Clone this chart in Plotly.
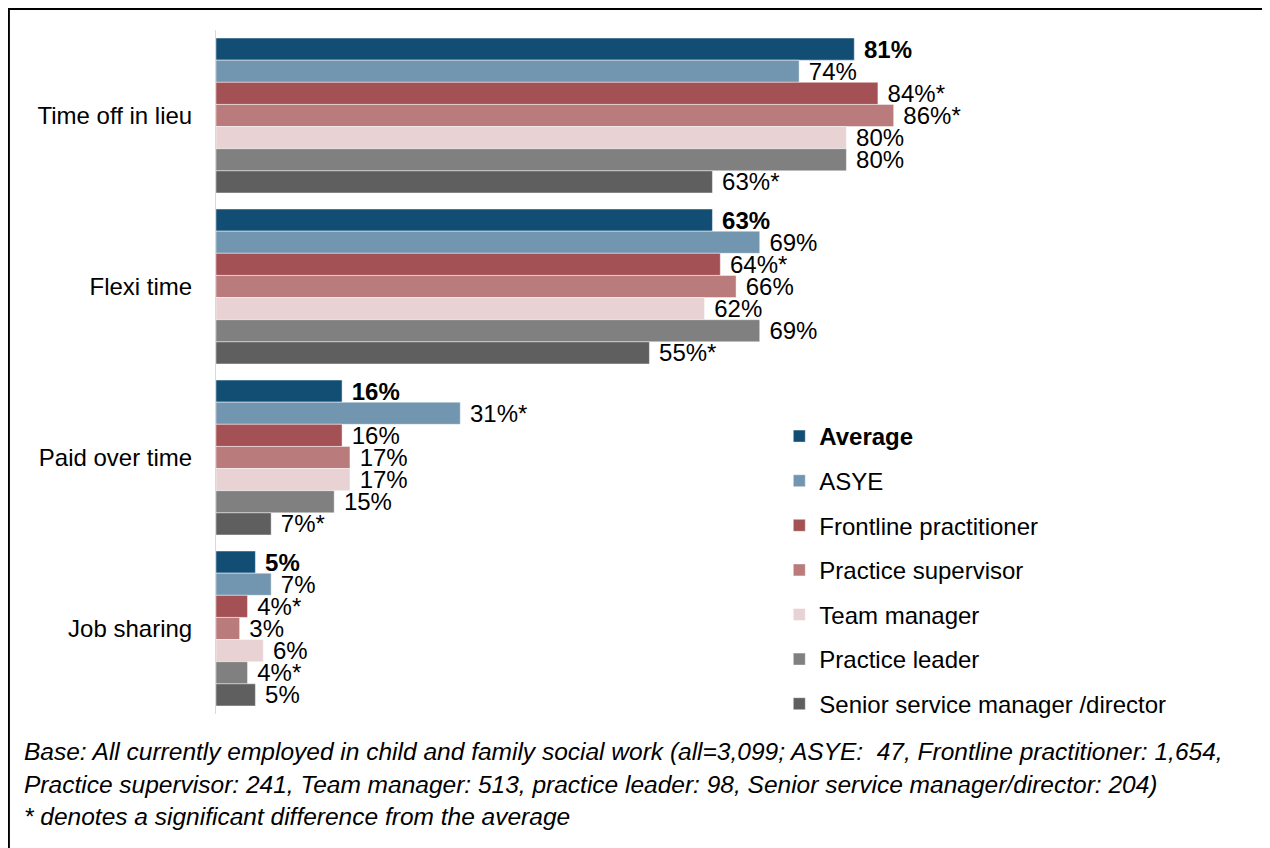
import plotly.graph_objects as go

categories = ["Time off in lieu", "Flexi time", "Paid over time", "Job sharing"]
series_names = ["Average", "ASYE", "Frontline practitioner", "Practice supervisor",
                "Team manager", "Practice leader", "Senior service manager /director"]
average = [81, 63, 16, 5]
asye = [74, 69, 31, 7]
frontline = [84, 64, 16, 4]
supervisor = [86, 66, 17, 3]
team_manager = [80, 62, 17, 6]
practice_leader = [80, 69, 15, 4]
senior = [63, 55, 7, 5]
values = [average, asye, frontline, supervisor, team_manager, practice_leader, senior]
# significance flags (* = significant difference from the average)
sig_average = [0, 0, 0, 0]
sig_asye = [0, 0, 1, 0]
sig_frontline = [1, 1, 0, 1]
sig_supervisor = [1, 0, 0, 0]
sig_team_manager = [0, 0, 0, 0]
sig_practice_leader = [0, 0, 0, 1]
sig_senior = [1, 1, 1, 0]
sigs = [sig_average, sig_asye, sig_frontline, sig_supervisor, sig_team_manager,
        sig_practice_leader, sig_senior]
colors = ["#124E74", "#7296B0", "#A35155", "#BA7B7D", "#E8D2D4", "#808080", "#5F5F5F"]

footnote = [
    "Base: All currently employed in child and family social work (all=3,099; ASYE:  47, Frontline practitioner: 1,654,",
    "Practice supervisor: 241, Team manager: 513, practice leader: 98, Senior service manager/director: 204)",
    "* denotes a significant difference from the average",
]

FONT = "Liberation Sans, Arial, sans-serif"
FS = 24

fig = go.Figure()
for i, (name, vals, sg, col) in enumerate(zip(series_names, values, sigs, colors)):
    texts = []
    for v, s in zip(vals, sg):
        t = f"{v}%" + ("*" if s else "")
        if i == 0:
            t = f"<b>{t}</b>"
        texts.append("\u00a0" + t)
    fig.add_trace(go.Bar(
        y=categories, x=vals, orientation="h",
        name=f"<b>{name}</b>" if i == 0 else name,
        legendgroup=f"g{i}",
        marker=dict(color=col, line=dict(color="rgba(255,255,255,0.45)", width=1)),
        text=texts, textposition="outside", cliponaxis=False, constraintext="none",
        textfont=dict(size=FS, color="black", family=FONT),
        hoverinfo="skip",
    ))

# page is offset by the 8px body margin
OFF = 8
W, H = 1270 - OFF, 848 - OFF
L, T = 216 - OFF, 30 - OFF
PW, PH = 787.6, 684
R = W - L - PW
B = H - T - PH

def px_x(px):
    return (px - OFF - L) / PW

def px_y(py):
    return (T + PH - (py - OFF)) / PH

fig.update_layout(
    width=W, height=H,
    margin=dict(l=L, r=R, t=T, b=B, pad=0),
    paper_bgcolor="white", plot_bgcolor="white",
    barmode="group", bargap=0.094, bargroupgap=0,
    font=dict(family=FONT, color="black", size=FS),
    xaxis=dict(range=[0, 100], visible=False, fixedrange=True),
    yaxis=dict(autorange="reversed", showline=True, linecolor="#D9D9D9", linewidth=1,
               ticks="", showgrid=False, tickfont=dict(size=FS, color="black"),
               ticklabelstandoff=18),
    showlegend=True,
    legend=dict(x=px_x(779), y=px_y(414), xanchor="left", yanchor="top",
                font=dict(size=FS, color="black"), tracegroupgap=10.4,
                bgcolor="rgba(0,0,0,0)", itemclick=False),
)

# outer frame
fig.add_shape(type="rect", xref="paper", yref="paper",
              x0=px_x(9), x1=px_x(1300), y0=px_y(880), y1=px_y(9),
              line=dict(color="black", width=2), fillcolor="rgba(0,0,0,0)", layer="above")

for txt, py in zip(footnote, [751, 784, 816]):
    fig.add_annotation(text=f"<i>{txt}</i>", xref="paper", yref="paper",
                       x=px_x(22), y=px_y(py), xanchor="left", yanchor="middle",
                       showarrow=False, font=dict(size=24.5, color="black", family=FONT))

fig.write_html("out.html")
